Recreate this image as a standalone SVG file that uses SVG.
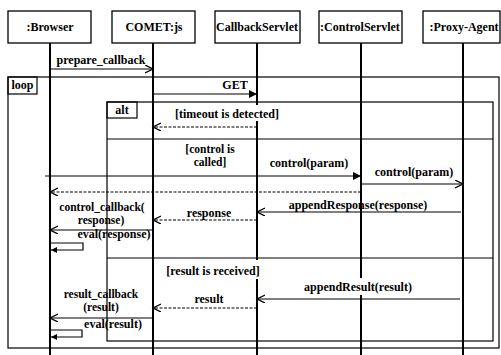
<svg xmlns="http://www.w3.org/2000/svg" width="501" height="355" viewBox="0 0 501 355">
<style>
text{font-family:"Liberation Serif","Times New Roman",serif;font-weight:bold;font-size:12px;fill:#000}
.m{text-anchor:middle}
.t2{font-size:11.5px}
.box{fill:#fff;stroke:#000;stroke-width:1.3}
.life{stroke:#000;stroke-width:2}
.frame{fill:none;stroke:#000;stroke-width:1.2}
.msg{stroke:#000;stroke-width:1.2;fill:none}
.dash{stroke-dasharray:3,1.5}
.bg{fill:#fff;stroke:none}
</style>
<defs>
<marker id="open" markerUnits="userSpaceOnUse" markerWidth="10" markerHeight="10" refX="8" refY="4" orient="auto"><path d="M0,0 L8,4 L0,8" fill="none" stroke="#000" stroke-width="1.3"/></marker>
<marker id="fill" markerUnits="userSpaceOnUse" markerWidth="10" markerHeight="10" refX="8" refY="4" orient="auto"><path d="M0,0 L8,4 L0,8 z" fill="#000"/></marker>
<marker id="fills" markerUnits="userSpaceOnUse" markerWidth="8" markerHeight="8" refX="6" refY="3" orient="auto"><path d="M0,0 L6,3 L0,6 z" fill="#000"/></marker>
</defs>
<rect width="501" height="355" fill="#fff"/>
<g id="frames">
<rect class="frame" x="8" y="77" width="491" height="271"/>
<rect class="frame" x="8" y="77" width="29" height="17"/>
<text x="22.5" y="89" class="m">loop</text>
<rect class="frame" x="107" y="102" width="386" height="239"/>
<rect class="frame" x="107" y="102" width="30" height="16"/>
<text x="122" y="114" class="m">alt</text>
<line class="frame" x1="107" y1="139" x2="493" y2="139"/>
<line class="frame" x1="107" y1="258" x2="493" y2="258"/>
</g>
<g id="lifelines">
<line class="life" x1="50" y1="43" x2="50" y2="355"/>
<line class="life" x1="153" y1="43" x2="153" y2="355"/>
<line class="life" x1="257" y1="43" x2="257" y2="355"/>
<line class="life" x1="361" y1="43" x2="361" y2="355"/>
<line class="life" x1="463" y1="43" x2="463" y2="355"/>
</g>
<g id="browser"><rect class="box" x="8" y="11" width="83" height="32"/><text x="50" y="31" class="m">:Browser</text></g>
<g id="comet"><rect class="box" x="112" y="11" width="83" height="32"/><text x="154" y="31" class="m">COMET:js</text></g>
<g id="callback"><rect class="box" x="215" y="11" width="85" height="32"/><text x="216" y="31">CallbackServlet</text></g>
<g id="control"><rect class="box" x="319" y="11" width="83" height="32"/><text x="360" y="31" class="m">:ControlServlet</text></g>
<g id="proxy"><rect class="box" x="423" y="11" width="77" height="32"/><text x="464" y="31" class="m">:Proxy-Agent</text></g>
<g id="connectors">
<line class="msg" x1="50" y1="69" x2="153" y2="69" marker-end="url(#open)"/>
<text x="101" y="64" class="m">prepare_callback</text>
<line class="msg" x1="153" y1="94" x2="257" y2="94" marker-end="url(#fill)"/>
<text x="235" y="89" class="m">GET</text>
<rect class="bg" x="170" y="105" width="114" height="16"/>
<text x="227" y="118" class="m">[timeout is detected]</text>
<line class="msg dash" x1="257" y1="127" x2="153" y2="127" marker-end="url(#open)"/>
<text x="210" y="153" class="m t2">[control is</text>
<text x="210" y="166" class="m t2">called]</text>
<line class="msg" x1="45" y1="176" x2="361" y2="176" marker-end="url(#fill)"/>
<text x="309" y="167" class="m">control(param)</text>
<line class="msg" x1="361" y1="184" x2="463" y2="184" marker-end="url(#open)"/>
<text x="414" y="176" class="m">control(param)</text>
<line class="msg dash" x1="361" y1="192" x2="50" y2="192" marker-end="url(#open)"/>
<line class="msg" x1="461" y1="212" x2="257" y2="212" marker-end="url(#open)"/>
<text x="358" y="209" class="m">appendResponse(response)</text>
<line class="msg dash" x1="257" y1="220" x2="153" y2="220" marker-end="url(#open)"/>
<text x="209" y="217" class="m">response</text>
<text x="102" y="211" class="m t2">control_callback(</text>
<text x="101" y="224" class="m t2">response)</text>
<line class="msg" x1="153" y1="230" x2="50" y2="230" marker-end="url(#open)"/>
<text x="114" y="238" class="m">eval(response)</text>
<path class="msg" d="M51,243 H83 V250 H51" marker-end="url(#fills)"/>
<rect class="bg" x="162" y="260" width="102" height="19"/>
<text x="213" y="275" class="m">[result is received]</text>
<rect class="bg" x="300" y="278" width="116" height="17"/>
<text x="358" y="291" class="m">appendResult(result)</text>
<line class="msg" x1="460" y1="299" x2="257" y2="299" marker-end="url(#open)"/>
<text x="209" y="303" class="m">result</text>
<line class="msg dash" x1="257" y1="308" x2="153" y2="308" marker-end="url(#open)"/>
<text x="101" y="298" class="m t2">result_callback</text>
<text x="101" y="311" class="m t2">(result)</text>
<line class="msg" x1="153" y1="318" x2="50" y2="318" marker-end="url(#open)"/>
<text x="113" y="328" class="m">eval(result)</text>
<path class="msg" d="M51,330 H82 V337 H51" marker-end="url(#fills)"/>
</g>
</svg>
